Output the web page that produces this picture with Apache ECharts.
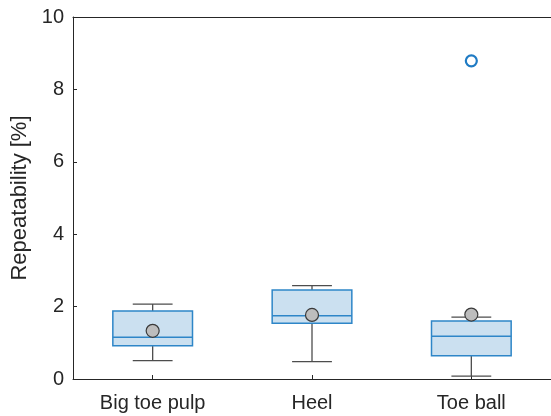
<!DOCTYPE html>
<html>
<head>
<meta charset="utf-8">
<script src="https://cdn.jsdelivr.net/npm/echarts@6/dist/echarts.min.js"></script>
<style>
  html, body { margin: 0; padding: 0; background: #fff; }
  #chart { width: 551px; height: 416px; }
</style>
</head>
<body>
<div id="chart"></div>
<script>
// Repeatability per measurement location
const categories = ['Big toe pulp', 'Heel', 'Toe ball'];
const whiskerLow = [0.51, 0.48, 0.08];
const q1 = [0.92, 1.54, 0.64];
const medians = [1.15, 1.75, 1.18];
const q3 = [1.88, 2.46, 1.60];
const whiskerHigh = [2.07, 2.58, 1.71];
const means = [1.33, 1.77, 1.78];
const outlierCategories = ['Toe ball'];
const outlierValues = [8.79];
const yTicks = [0, 2, 4, 6, 8, 10];

const boxData = categories.map((c, i) => [i, whiskerLow[i], q1[i], medians[i], q3[i], whiskerHigh[i]]);
const meanData = categories.map((c, i) => [i, means[i]]);
const outlierData = outlierCategories.map((c, i) => [categories.indexOf(c), outlierValues[i]]);

const axisColor = '#262626';
const boxBlue = '#2e86c8';
const whiskerGray = '#4d4d4d';
const font = '"Liberation Sans", Arial, sans-serif';

function renderBox(params, api) {
  const x = api.value(0);
  const band = api.size([1, 0])[0];
  const boxW = band * 0.5;
  const capW = band * 0.25;
  const pLow = api.coord([x, api.value(1)]);
  const pQ1 = api.coord([x, api.value(2)]);
  const pMed = api.coord([x, api.value(3)]);
  const pQ3 = api.coord([x, api.value(4)]);
  const pHigh = api.coord([x, api.value(5)]);
  const cx = pMed[0];
  const wStyle = { stroke: whiskerGray, lineWidth: 1.3 };
  return {
    type: 'group',
    children: [
      { type: 'line', shape: { x1: cx, y1: pQ3[1], x2: cx, y2: pHigh[1] }, style: wStyle },
      { type: 'line', shape: { x1: cx, y1: pQ1[1], x2: cx, y2: pLow[1] }, style: wStyle },
      { type: 'line', shape: { x1: cx - capW / 2, y1: pHigh[1], x2: cx + capW / 2, y2: pHigh[1] }, style: wStyle },
      { type: 'line', shape: { x1: cx - capW / 2, y1: pLow[1], x2: cx + capW / 2, y2: pLow[1] }, style: wStyle },
      { type: 'rect', shape: { x: cx - boxW / 2, y: pQ3[1], width: boxW, height: pQ1[1] - pQ3[1] },
        style: { fill: '#cbe0f0', stroke: boxBlue, lineWidth: 1.5 } },
      { type: 'line', shape: { x1: cx - boxW / 2, y1: pMed[1], x2: cx + boxW / 2, y2: pMed[1] },
        style: { stroke: boxBlue, lineWidth: 1.5 } }
    ]
  };
}

const chart = echarts.init(document.getElementById('chart'), null, { renderer: 'canvas' });
chart.setOption({
  animation: false,
  backgroundColor: '#ffffff',
  grid: { left: 73, top: 17, width: 486, height: 362, containLabel: false },
  xAxis: [
    {
      type: 'category',
      data: categories,
      boundaryGap: true,
      axisLine: { show: true, lineStyle: { color: axisColor, width: 1 } },
      axisTick: { show: true, inside: true, alignWithLabel: true, length: 4, lineStyle: { color: axisColor } },
      axisLabel: { color: axisColor, fontSize: 20, fontFamily: font, margin: 14 },
      splitLine: { show: false }
    },
    {
      type: 'category',
      data: categories,
      position: 'top',
      axisLine: { show: true, lineStyle: { color: axisColor, width: 1 } },
      axisTick: { show: false },
      axisLabel: { show: false },
      splitLine: { show: false }
    }
  ],
  yAxis: {
    type: 'value',
    min: yTicks[0],
    max: yTicks[yTicks.length - 1],
    interval: 2,
    name: 'Repeatability [%]',
    nameLocation: 'middle',
    nameGap: 40,
    nameTextStyle: { color: axisColor, fontSize: 22, fontFamily: font },
    axisLine: { show: true, lineStyle: { color: axisColor, width: 1 } },
    axisTick: { show: true, inside: true, length: 4, lineStyle: { color: axisColor } },
    axisLabel: { color: axisColor, fontSize: 20, fontFamily: font, margin: 9 },
    splitLine: { show: false }
  },
  series: [
    {
      type: 'custom',
      renderItem: renderBox,
      data: boxData,
      encode: { x: 0, y: [1, 2, 3, 4, 5] },
      z: 2
    },
    {
      type: 'scatter',
      data: meanData,
      symbol: 'circle',
      symbolSize: 13,
      itemStyle: { color: '#bdbdbd', borderColor: '#3a3a3a', borderWidth: 1.2, opacity: 1 },
      z: 3
    },
    {
      type: 'scatter',
      data: outlierData,
      symbol: 'circle',
      symbolSize: 11,
      itemStyle: { color: '#ffffff', borderColor: '#1f7bc4', borderWidth: 2.2, opacity: 1 },
      z: 3
    }
  ]
});
</script>
</body>
</html>
